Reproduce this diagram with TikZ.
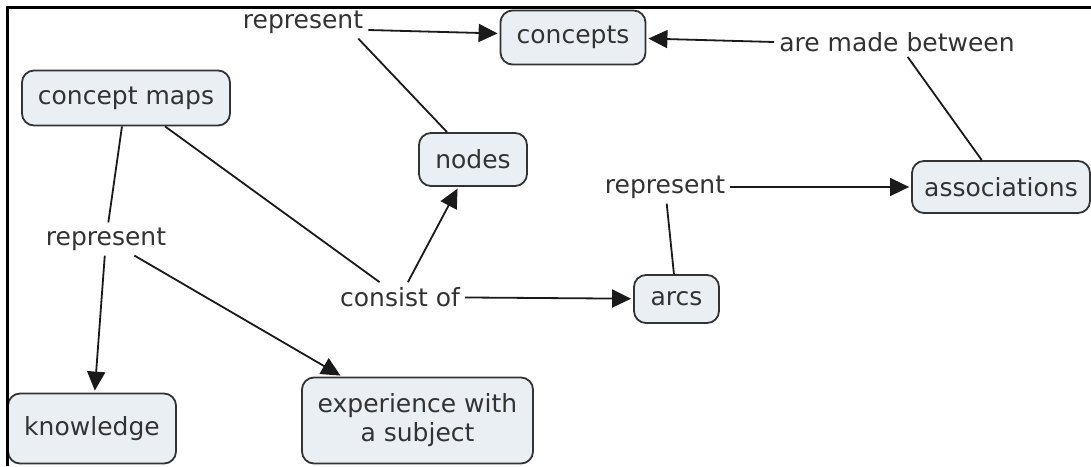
\documentclass[tikz,border=0pt]{standalone}
\usepackage{fontspec}
\setmainfont{DejaVu Sans}
\usetikzlibrary{arrows.meta}
\definecolor{boxfill}{HTML}{E9EFF3}
\definecolor{boxline}{HTML}{333333}
\definecolor{txt}{HTML}{333333}
\definecolor{conn}{HTML}{1A1A1A}
\tikzset{
  concept/.style={draw=boxline, line width=1.8pt, fill=boxfill, rounded corners=12pt,
    text=txt, font=\fontsize{25}{29}\selectfont, align=center, inner sep=0pt},
  linkword/.style={fill=white, text=txt, font=\fontsize{25}{29}\selectfont, inner sep=5pt},
  link/.style={draw=conn, line width=1.8pt},
  arrowlink/.style={link, -{Triangle[length=19pt,width=18pt]}, shorten >=2pt}
}
\begin{document}
\begin{tikzpicture}[x=1pt, y=-1pt]
  \useasboundingbox (0,0) rectangle (1091,466);
  \fill[white] (0,0) rectangle (1091,466);

  % concepts
  \node[concept, minimum width=145pt, minimum height=54pt] (concepts) at (573,37.5) {concepts};
  \node[concept, minimum width=208pt, minimum height=55pt] (cmaps) at (126,98) {concept maps};
  \node[concept, minimum width=108pt, minimum height=53pt] (nodes) at (473,159.5) {nodes};
  \node[concept, minimum width=178pt, minimum height=52pt] (assoc) at (1001,187) {associations};
  \node[concept, minimum width=85pt, minimum height=48pt] (arcs) at (676.5,299) {arcs};
  \node[concept, minimum width=168pt, minimum height=70pt] (knowledge) at (92,428.5) {knowledge};
  \node[concept, minimum width=231pt, minimum height=86pt] (exp) at (417.5,420.5) {experience with\\a subject};

  % linking phrases
  \node[linkword] (rep1) at (303,22) {represent};
  \node[linkword] (amb) at (897,42) {are made between};
  \node[linkword] (rep2) at (665,187) {represent};
  \node[linkword] (rep3) at (106,239) {represent};
  \node[linkword] (cons) at (400,297) {consist of};

  % connectors
  \draw[link] (nodes) -- ([xshift=-10pt]rep1.south east);
  \draw[arrowlink] ([yshift=-8pt]rep1.east) -- ([yshift=4pt]concepts.west);
  \draw[link] (assoc) -- (amb);
  \draw[arrowlink] (amb.west) -- ([yshift=-1pt]concepts.east);
  \draw[link] (arcs) -- (rep2);
  \draw[arrowlink] (rep2) -- (assoc);
  \draw[link] (cmaps) -- (cons);
  \draw[arrowlink] (cons) -- (nodes);
  \draw[arrowlink] (cons) -- (arcs);
  \draw[link] (cmaps) -- (rep3);
  \draw[arrowlink] (rep3) -- (knowledge);
  \draw[arrowlink] (rep3) -- (exp);

  % frame on the top and left edges
  \draw[line width=2.6pt, black] (7.5,466) -- (7.5,7.5) -- (1091,7.5);
\end{tikzpicture}
\end{document}
